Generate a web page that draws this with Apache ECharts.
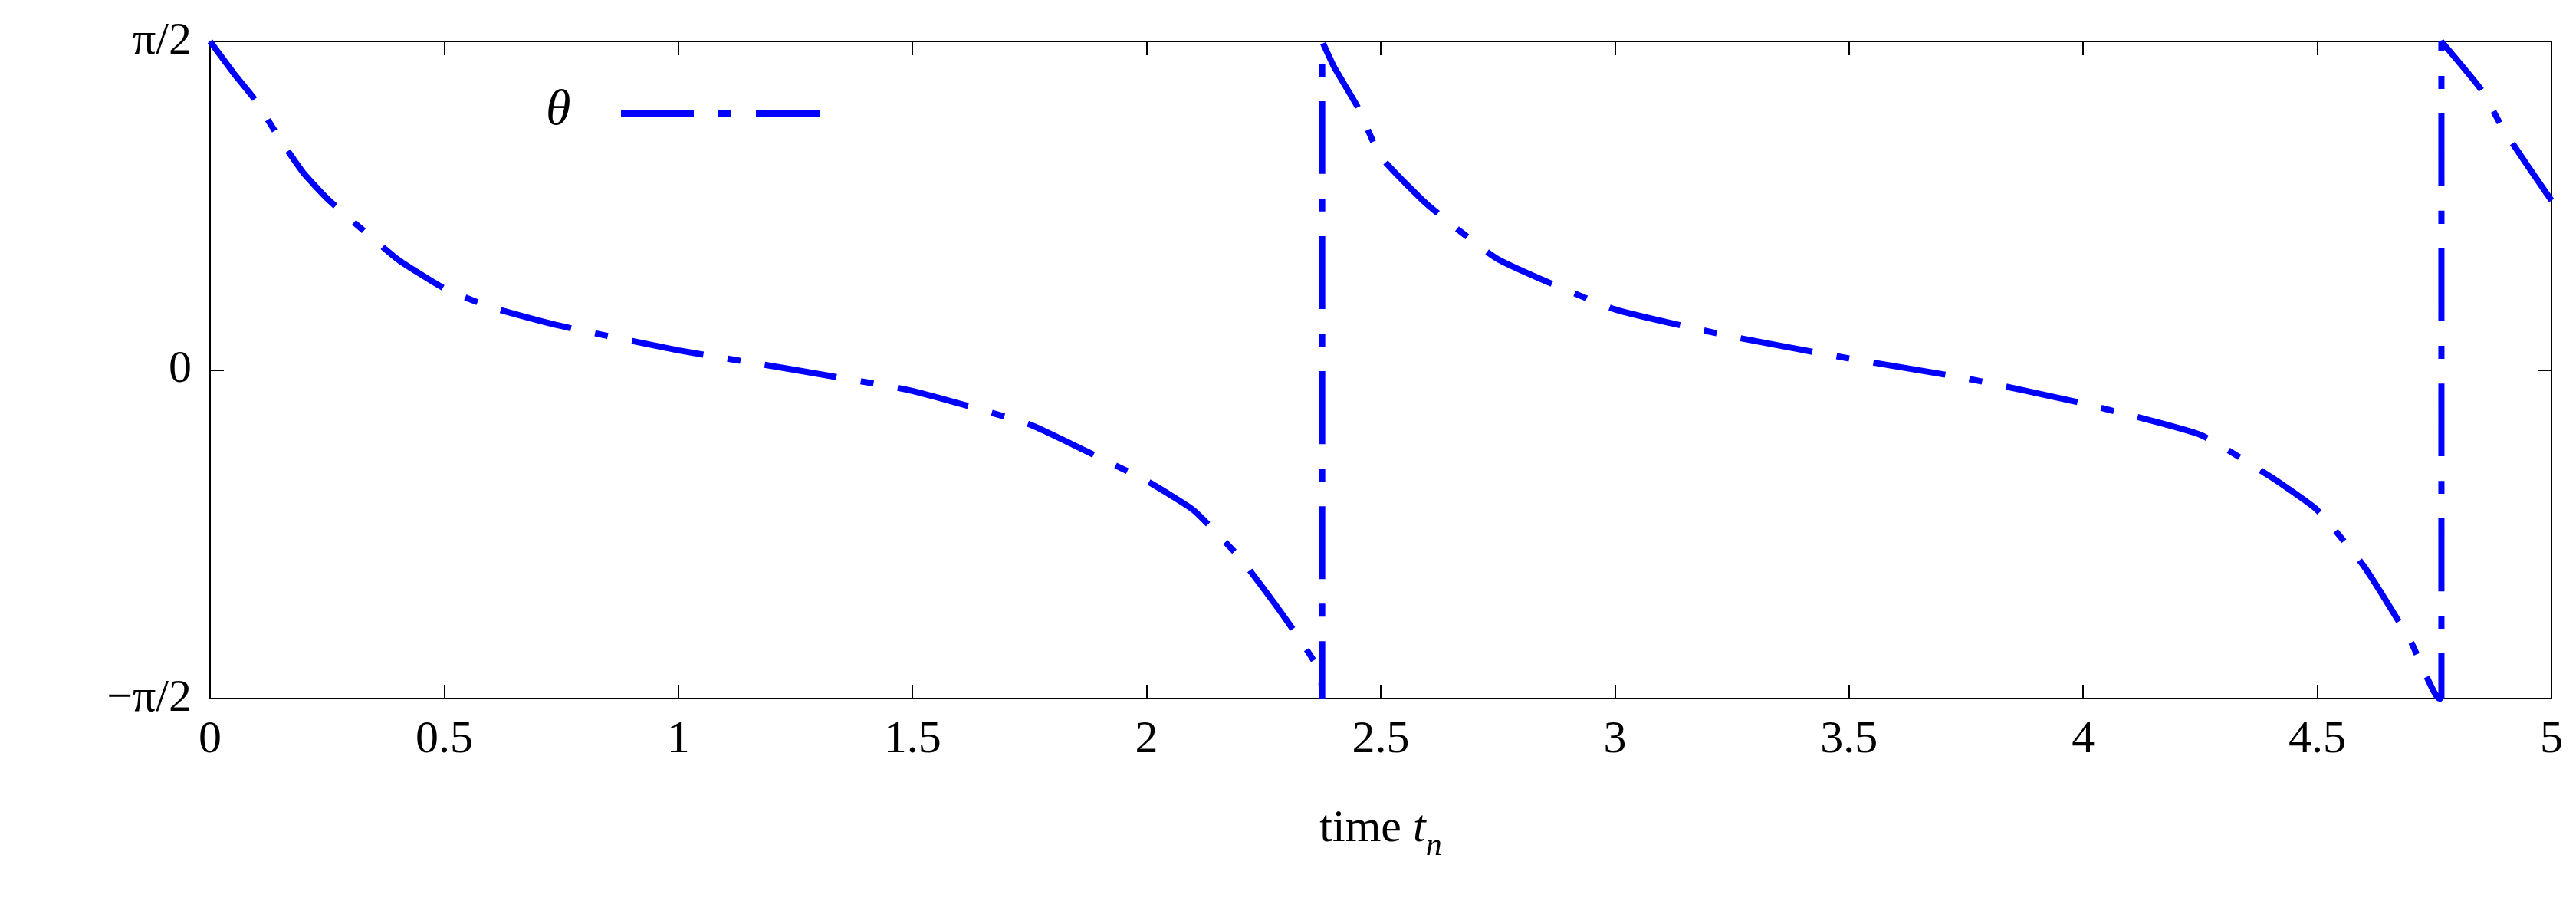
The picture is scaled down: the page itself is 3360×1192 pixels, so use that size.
<!DOCTYPE html>
<html><head><meta charset="utf-8">
<script src="https://cdn.jsdelivr.net/npm/echarts@6/dist/echarts.min.js"></script>
<style>html,body{margin:0;padding:0;background:#fff}#c{width:3360px;height:1192px}</style>
</head><body><div id="c"></div>
<script>
const P = Math.PI/2;
const times = [0,0.05,0.1,0.15,0.2,0.25,0.3,0.4,0.5,0.6,0.75,1,1.25,1.5,1.75,1.9,2,2.1,2.2,2.3,2.37,2.375,2.375,2.4,2.45,2.5,2.6,2.75,3,3.25,3.5,3.75,4,4.25,4.4,4.5,4.6,4.7,4.76,4.765,4.765,4.85,4.9,5];
const theta = [1.5708,1.42,1.28,1.10,0.94,0.82,0.72,0.53,0.39,0.30,0.21,0.094,0,-0.10,-0.26,-0.42,-0.53,-0.67,-0.90,-1.20,-1.44,-1.5708,1.5708,1.45,1.26,1.02,0.79,0.53,0.29,0.16,0.055,-0.04,-0.16,-0.31,-0.51,-0.67,-0.94,-1.30,-1.5708,-1.5708,1.5708,1.34,1.14,0.81];
const xTicks = [0,0.5,1,1.5,2,2.5,3,3.5,4,4.5,5];
const yTickLabels = {'-1':'−π/2','0':'0','1':'π/2'};
const font = 'Liberation Serif';
const dash = [95,32,17,32];
const chart = echarts.init(document.getElementById('c'));
const axBase = {axisLine:{show:false,onZero:false},splitLine:{show:false},axisTick:{inside:true,length:18,lineStyle:{color:'#000',width:2}}};
chart.setOption({
  animation:false,
  grid:{left:274,right:32,top:54,bottom:281,show:true,borderColor:'#000',borderWidth:2},
  xAxis:[
    Object.assign({type:'value',min:0,max:5,interval:0.5,
      axisLabel:{fontFamily:font,fontSize:60,color:'#000',margin:24,formatter:v=>String(v)},
      name:'{a|time }{b|t}{c|n}',nameLocation:'middle',nameGap:140,
      nameTextStyle:{rich:{a:{fontFamily:font,fontSize:60,color:'#000'},b:{fontFamily:font,fontStyle:'italic',fontSize:60,color:'#000'},c:{fontFamily:font,fontStyle:'italic',fontSize:42,color:'#000',verticalAlign:'bottom',padding:[0,0,-14,0]}}}},axBase),
    Object.assign({type:'value',min:0,max:5,interval:0.5,position:'top',axisLabel:{show:false}},axBase)
  ],
  yAxis:[
    Object.assign({type:'value',min:-P,max:P,interval:P,
      axisLabel:{fontFamily:font,fontSize:60,color:'#000',margin:24,formatter:v=>yTickLabels[String(Math.round(v/P))]}},axBase),
    Object.assign({type:'value',min:-P,max:P,interval:P,position:'right',axisLabel:{show:false}},axBase)
  ],
  graphic:[
    {type:'text',left:712,top:112,style:{text:'θ',fontFamily:font,fontStyle:'italic',fontSize:66,fill:'#000'}},
    {type:'line',shape:{x1:810,y1:148,x2:1070,y2:148},style:{stroke:'#0000ff',lineWidth:8,lineDash:dash}}
  ],
  series:[{type:'line',data:times.map((t,i)=>[t,theta[i]]),smooth:0.15,showSymbol:false,clip:true,
    lineStyle:{color:'#0000ff',width:8,type:dash}}]
});
</script></body></html>
